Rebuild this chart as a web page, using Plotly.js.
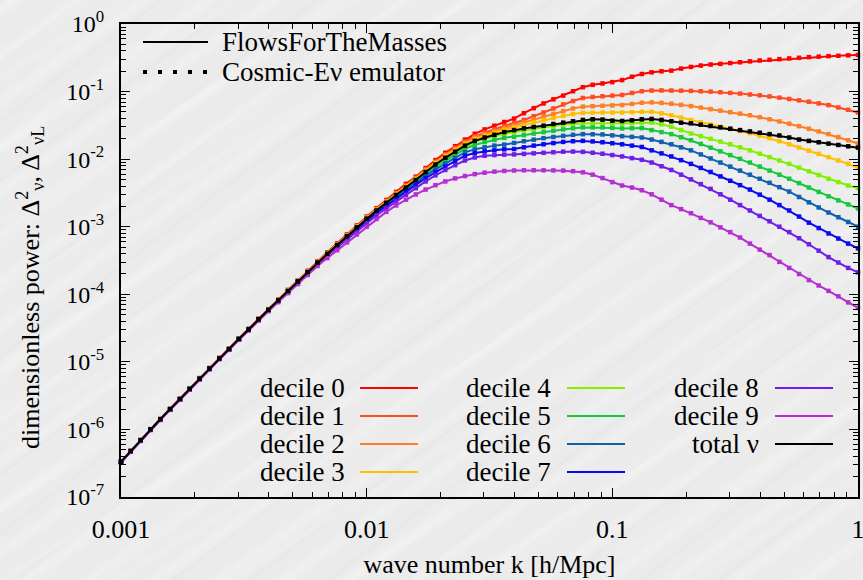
<!DOCTYPE html>
<html>
<head>
<meta charset="utf-8">
<script src="https://cdn.plot.ly/plotly-3.0.1.min.js"></script>
<style>
  html, body { margin: 0; padding: 0; }
  body {
    width: 863px; height: 580px; overflow: hidden;
    background-color: #ebebeb;
    background-image:
      repeating-linear-gradient(145deg, rgba(255,255,255,0) 0px, rgba(255,255,255,0.24) 9px, rgba(255,255,255,0) 18px, rgba(255,255,255,0) 37px),
      repeating-linear-gradient(148deg, rgba(255,255,255,0) 0px, rgba(255,255,255,0.15) 5px, rgba(255,255,255,0) 10px, rgba(255,255,255,0) 61px),
      repeating-linear-gradient(143deg, rgba(0,0,0,0) 0px, rgba(0,0,0,0.015) 3px, rgba(0,0,0,0) 6px, rgba(0,0,0,0) 47px);
  }
  #chart { width: 863px; height: 580px; }
</style>
</head>
<body>
<div id="chart"></div>
<script>
// wave number k [h/Mpc], sampled every 0.04 dex
const k = [
  0.001, 0.001096, 0.001202, 0.001318, 0.001445, 0.001585, 0.001738, 0.001905, 0.002089, 0.002291,
  0.002512, 0.002754, 0.00302, 0.003311, 0.003631, 0.003981, 0.004365, 0.004786, 0.005248, 0.005754,
  0.00631, 0.006918, 0.007586, 0.008318, 0.00912, 0.01, 0.01096, 0.01202, 0.01318, 0.01445,
  0.01585, 0.01738, 0.01905, 0.02089, 0.02291, 0.02512, 0.02754, 0.0302, 0.03311, 0.03631,
  0.03981, 0.04365, 0.04786, 0.05248, 0.05754, 0.0631, 0.06918, 0.07586, 0.08318, 0.0912,
  0.1, 0.1096, 0.1202, 0.1318, 0.1445, 0.1585, 0.1738, 0.1905, 0.2089, 0.2291,
  0.2512, 0.2754, 0.302, 0.3311, 0.3631, 0.3981, 0.4365, 0.4786, 0.5248, 0.5754,
  0.631, 0.6918, 0.7586, 0.8318, 0.912, 1
];

// log10 of the dimensionless power for each velocity decile and the total
const logDecile0 = [
  -6.475, -6.315, -6.155, -5.995, -5.845, -5.695, -5.545, -5.39, -5.24, -5.09,
  -4.94, -4.80, -4.65, -4.51, -4.36, -4.22, -4.078, -3.935, -3.795, -3.652,
  -3.51, -3.378, -3.246, -3.114, -2.982, -2.85, -2.726, -2.605, -2.485, -2.366,
  -2.26, -2.132, -2.014, -1.906, -1.808, -1.71, -1.625, -1.56, -1.505, -1.45,
  -1.40, -1.32, -1.245, -1.175, -1.115, -1.06, -0.995, -0.935, -0.90, -0.88,
  -0.86, -0.83, -0.78, -0.74, -0.715, -0.70, -0.69, -0.66, -0.635, -0.615,
  -0.60, -0.59, -0.578, -0.566, -0.553, -0.54, -0.53, -0.52, -0.51, -0.50,
  -0.49, -0.483, -0.476, -0.47, -0.464, -0.458
];
const logDecile1 = [
  -6.477, -6.317, -6.157, -5.997, -5.847, -5.697, -5.547, -5.397, -5.247, -5.097,
  -4.947, -4.806, -4.655, -4.515, -4.364, -4.224, -4.083, -3.942, -3.801, -3.66,
  -3.52, -3.388, -3.256, -3.124, -2.992, -2.86, -2.737, -2.619, -2.501, -2.388,
  -2.275, -2.15, -2.035, -1.93, -1.835, -1.74, -1.663, -1.605, -1.558, -1.51,
  -1.47, -1.42, -1.365, -1.31, -1.25, -1.19, -1.14, -1.095, -1.08, -1.07,
  -1.06, -1.05, -1.02, -0.995, -0.985, -0.983, -0.985, -0.987, -0.99, -0.995,
  -1.00, -1.01, -1.02, -1.03, -1.043, -1.055, -1.072, -1.09, -1.11, -1.13,
  -1.15, -1.175, -1.20, -1.235, -1.27, -1.31
];
const logDecile2 = [
  -6.478, -6.318, -6.158, -5.998, -5.848, -5.698, -5.548, -5.398, -5.248, -5.098,
  -4.948, -4.807, -4.657, -4.517, -4.366, -4.226, -4.085, -3.943, -3.803, -3.661,
  -3.52, -3.389, -3.258, -3.127, -2.996, -2.865, -2.743, -2.626, -2.509, -2.397,
  -2.285, -2.16, -2.045, -1.94, -1.848, -1.755, -1.681, -1.627, -1.584, -1.54,
  -1.50, -1.455, -1.41, -1.37, -1.33, -1.29, -1.25, -1.223, -1.217, -1.21,
  -1.205, -1.20, -1.183, -1.165, -1.16, -1.168, -1.18, -1.197, -1.215, -1.237,
  -1.26, -1.283, -1.305, -1.327, -1.35, -1.38, -1.41, -1.442, -1.475, -1.512,
  -1.55, -1.59, -1.63, -1.675, -1.72, -1.77
];
const logDecile3 = [
  -6.479, -6.319, -6.159, -5.999, -5.849, -5.699, -5.549, -5.399, -5.249, -5.099,
  -4.949, -4.808, -4.658, -4.518, -4.368, -4.227, -4.086, -3.945, -3.804, -3.664,
  -3.523, -3.392, -3.262, -3.131, -3.001, -2.87, -2.749, -2.633, -2.517, -2.406,
  -2.295, -2.173, -2.06, -1.958, -1.867, -1.775, -1.703, -1.65, -1.608, -1.565,
  -1.53, -1.494, -1.458, -1.424, -1.392, -1.36, -1.332, -1.314, -1.312, -1.31,
  -1.31, -1.31, -1.305, -1.30, -1.30, -1.322, -1.35, -1.385, -1.42, -1.455,
  -1.49, -1.522, -1.555, -1.585, -1.615, -1.652, -1.69, -1.735, -1.78, -1.828,
  -1.875, -1.922, -1.97, -2.02, -2.07, -2.13
];
const logDecile4 = [
  -6.48, -6.32, -6.16, -6.00, -5.85, -5.70, -5.55, -5.40, -5.25, -5.10,
  -4.95, -4.81, -4.66, -4.52, -4.37, -4.231, -4.091, -3.951, -3.811, -3.671,
  -3.532, -3.402, -3.272, -3.142, -3.012, -2.882, -2.763, -2.649, -2.534, -2.425,
  -2.315, -2.198, -2.09, -1.993, -1.903, -1.815, -1.748, -1.70, -1.663, -1.625,
  -1.60, -1.575, -1.552, -1.53, -1.51, -1.49, -1.478, -1.47, -1.47, -1.47,
  -1.473, -1.475, -1.468, -1.46, -1.46, -1.485, -1.52, -1.57, -1.62, -1.66,
  -1.70, -1.74, -1.78, -1.825, -1.87, -1.92, -1.97, -2.02, -2.07, -2.125,
  -2.18, -2.235, -2.29, -2.34, -2.39, -2.43
];
const logDecile5 = [
  -6.481, -6.321, -6.161, -6.001, -5.851, -5.701, -5.551, -5.401, -5.251, -5.101,
  -4.951, -4.811, -4.661, -4.521, -4.372, -4.232, -4.093, -3.953, -3.814, -3.674,
  -3.535, -3.406, -3.277, -3.148, -3.019, -2.89, -2.772, -2.659, -2.546, -2.438,
  -2.33, -2.217, -2.115, -2.023, -1.936, -1.85, -1.789, -1.748, -1.716, -1.685,
  -1.67, -1.645, -1.622, -1.60, -1.58, -1.56, -1.543, -1.53, -1.53, -1.53,
  -1.538, -1.545, -1.543, -1.54, -1.57, -1.60, -1.63, -1.675, -1.72, -1.775,
  -1.83, -1.885, -1.94, -1.995, -2.05, -2.11, -2.17, -2.23, -2.29, -2.355,
  -2.42, -2.485, -2.55, -2.61, -2.67, -2.73
];
const logDecile6 = [
  -6.482, -6.322, -6.162, -6.002, -5.852, -5.702, -5.552, -5.402, -5.252, -5.102,
  -4.952, -4.812, -4.663, -4.523, -4.374, -4.234, -4.095, -3.956, -3.817, -3.677,
  -3.538, -3.41, -3.283, -3.156, -3.028, -2.90, -2.784, -2.673, -2.562, -2.456,
  -2.35, -2.245, -2.15, -2.065, -1.983, -1.90, -1.855, -1.825, -1.80, -1.785,
  -1.76, -1.735, -1.712, -1.69, -1.672, -1.655, -1.64, -1.63, -1.632, -1.635,
  -1.648, -1.66, -1.67, -1.68, -1.71, -1.745, -1.78, -1.825, -1.87, -1.93,
  -1.99, -2.05, -2.11, -2.17, -2.23, -2.29, -2.35, -2.415, -2.48, -2.56,
  -2.64, -2.715, -2.79, -2.86, -2.93, -3.00
];
const logDecile7 = [
  -6.483, -6.323, -6.163, -6.003, -5.853, -5.703, -5.553, -5.403, -5.253, -5.103,
  -4.953, -4.814, -4.665, -4.525, -4.376, -4.236, -4.097, -3.958, -3.819, -3.679,
  -3.54, -3.414, -3.288, -3.162, -3.036, -2.91, -2.798, -2.691, -2.584, -2.482,
  -2.38, -2.28, -2.19, -2.11, -2.03, -1.95, -1.91, -1.885, -1.87, -1.855,
  -1.85, -1.825, -1.80, -1.78, -1.762, -1.745, -1.735, -1.73, -1.738, -1.75,
  -1.765, -1.78, -1.80, -1.82, -1.87, -1.915, -1.96, -2.015, -2.07, -2.13,
  -2.19, -2.255, -2.32, -2.385, -2.45, -2.525, -2.60, -2.68, -2.76, -2.85,
  -2.94, -3.02, -3.10, -3.175, -3.25, -3.32
];
const logDecile8 = [
  -6.485, -6.325, -6.165, -6.005, -5.855, -5.705, -5.555, -5.405, -5.255, -5.105,
  -4.955, -4.816, -4.668, -4.529, -4.381, -4.24, -4.102, -3.965, -3.828, -3.69,
  -3.55, -3.428, -3.306, -3.184, -3.062, -2.94, -2.832, -2.729, -2.626, -2.528,
  -2.43, -2.33, -2.24, -2.16, -2.09, -2.02, -1.975, -1.95, -1.94, -1.933,
  -1.93, -1.922, -1.914, -1.906, -1.898, -1.89, -1.888, -1.892, -1.905, -1.92,
  -1.94, -1.96, -1.985, -2.01, -2.05, -2.105, -2.16, -2.23, -2.30, -2.37,
  -2.44, -2.52, -2.60, -2.68, -2.76, -2.84, -2.92, -3.00, -3.08, -3.17,
  -3.26, -3.355, -3.45, -3.53, -3.61, -3.675
];
const logDecile9 = [
  -6.49, -6.33, -6.17, -6.01, -5.86, -5.71, -5.56, -5.41, -5.26, -5.11,
  -4.96, -4.822, -4.674, -4.535, -4.387, -4.25, -4.116, -3.982, -3.848, -3.714,
  -3.58, -3.464, -3.348, -3.232, -3.116, -3.00, -2.885, -2.78, -2.685, -2.60,
  -2.522, -2.45, -2.385, -2.33, -2.285, -2.25, -2.222, -2.20, -2.185, -2.175,
  -2.168, -2.165, -2.164, -2.165, -2.167, -2.17, -2.178, -2.195, -2.23, -2.28,
  -2.34, -2.39, -2.42, -2.46, -2.52, -2.60, -2.68, -2.74, -2.80, -2.87,
  -2.935, -3.01, -3.08, -3.16, -3.25, -3.34, -3.42, -3.52, -3.61, -3.70,
  -3.79, -3.87, -3.95, -4.03, -4.12, -4.20
];
const logTotal = [
  -6.48, -6.32, -6.16, -6.00, -5.85, -5.70, -5.55, -5.40, -5.25, -5.10,
  -4.95, -4.81, -4.66, -4.52, -4.37, -4.23, -4.09, -3.95, -3.81, -3.67,
  -3.53, -3.40, -3.27, -3.14, -3.01, -2.88, -2.76, -2.645, -2.53, -2.42,
  -2.31, -2.19, -2.08, -1.98, -1.89, -1.80, -1.73, -1.68, -1.64, -1.60,
  -1.57, -1.545, -1.525, -1.505, -1.48, -1.46, -1.44, -1.42, -1.41, -1.415,
  -1.43, -1.435, -1.425, -1.41, -1.405, -1.42, -1.44, -1.46, -1.47, -1.49,
  -1.51, -1.53, -1.55, -1.57, -1.59, -1.61, -1.63, -1.65, -1.68, -1.71,
  -1.73, -1.75, -1.77, -1.79, -1.81, -1.83
];

const seriesNames = ['decile 0', 'decile 1', 'decile 2', 'decile 3', 'decile 4',
                     'decile 5', 'decile 6', 'decile 7', 'decile 8', 'decile 9', 'total ν'];
const seriesLogs = [logDecile0, logDecile1, logDecile2, logDecile3, logDecile4,
                    logDecile5, logDecile6, logDecile7, logDecile8, logDecile9, logTotal];
const seriesColors = ['#ff0000', '#ff4a22', '#ff7d24', '#ffbf00', '#80f000',
                      '#14c83c', '#1060ae', '#0a0af0', '#6e1ee6', '#b42ed2', '#000000'];

const xTickVals = [0.001, 0.01, 0.1, 1];
const xTickText = ['0.001', '0.01', '0.1', '1'];
const yTickVals = [1e-7, 1e-6, 1e-5, 1e-4, 1e-3, 1e-2, 1e-1, 1];
const yTickText = ['10<sup>-7</sup>', '10<sup>-6</sup>', '10<sup>-5</sup>', '10<sup>-4</sup>',
                   '10<sup>-3</sup>', '10<sup>-2</sup>', '10<sup>-1</sup>', '10<sup>0</sup>'];

const FONT = 'Liberation Serif, Times New Roman, Times, serif';
const KEY_SIZE = 27;

// plot box in pixels, and helpers to place keys in paper coordinates
const box = { l: 121, r: 858, t: 24, b: 497 };
const fx = p => (p - box.l) / (box.r - box.l);
const fy = p => (box.b - p) / (box.b - box.t);

const traces = [];
seriesLogs.forEach((logs, i) => {
  const y = logs.map(v => Math.pow(10, v));
  // simulation result: solid line
  traces.push({
    x: k, y: y, type: 'scatter', mode: 'lines', name: seriesNames[i],
    line: { color: seriesColors[i], width: 2 }, showlegend: false, hoverinfo: 'skip'
  });
  // emulator prediction: small squares
  traces.push({
    x: k, y: y, type: 'scatter', mode: 'markers', name: seriesNames[i] + ' (emulator)',
    marker: { color: seriesColors[i], symbol: 'square', size: 4.5, line: { width: 0 } },
    showlegend: false, hoverinfo: 'skip', cliponaxis: false
  });
});

const annotations = [];
const shapes = [];

// method key, top left
const methodKeyRows = [42, 72];
shapes.push({ type: 'line', xref: 'paper', yref: 'paper', x0: fx(143), x1: fx(208),
              y0: fy(methodKeyRows[0]), y1: fy(methodKeyRows[0]), line: { color: '#000', width: 2 } });
for (let p = 145; p <= 206; p += 15) {
  shapes.push({ type: 'rect', xref: 'paper', yref: 'paper', x0: fx(p - 2), x1: fx(p + 2),
                y0: fy(methodKeyRows[1] - 2), y1: fy(methodKeyRows[1] + 2),
                fillcolor: '#000', line: { width: 0 } });
}
['FlowsForTheMasses', 'Cosmic-Eν emulator'].forEach((t, r) => {
  annotations.push({ text: t, xref: 'paper', yref: 'paper', x: fx(220), y: fy(methodKeyRows[r]),
                     xanchor: 'left', yanchor: 'middle', showarrow: false,
                     font: { family: FONT, size: KEY_SIZE, color: '#000' } });
});

// series key, bottom right, three columns
const keyRows = [388, 416, 444, 472];
const keyCols = [
  { textRight: 346, x0: 360, x1: 418, items: [0, 1, 2, 3] },
  { textRight: 552, x0: 567, x1: 625, items: [4, 5, 6, 7] },
  { textRight: 760, x0: 775, x1: 833, items: [8, 9, 10] }
];
keyCols.forEach(col => {
  col.items.forEach((si, r) => {
    annotations.push({ text: seriesNames[si], xref: 'paper', yref: 'paper',
                       x: fx(col.textRight), y: fy(keyRows[r]),
                       xanchor: 'right', yanchor: 'middle', showarrow: false, borderpad: 0,
                       font: { family: FONT, size: KEY_SIZE, color: '#000' } });
    shapes.push({ type: 'line', xref: 'paper', yref: 'paper', x0: fx(col.x0), x1: fx(col.x1),
                  y0: fy(keyRows[r]), y1: fy(keyRows[r]),
                  line: { color: seriesColors[si], width: 2 } });
  });
});

// vertical axis title
annotations.push({
  text: 'dimensionless power: Δ<sup>2</sup><sub>ν</sub>, Δ<sup>2</sup><sub>νL</sub>',
  xref: 'paper', yref: 'paper', x: fx(30), y: fy(288), textangle: -90,
  xanchor: 'center', yanchor: 'middle', showarrow: false,
  font: { family: FONT, size: 26, color: '#000' }
});

const axisCommon = {
  type: 'log', showgrid: false, zeroline: false,
  showline: true, linecolor: '#000', linewidth: 2, mirror: 'allticks',
  ticks: 'inside', ticklen: 9, tickwidth: 1.2, tickcolor: '#000',
  minor: { ticks: 'inside', ticklen: 5, tickwidth: 1, tickcolor: '#000', dtick: 'D1', showgrid: false },
  tickmode: 'array', ticklabeloverflow: 'allow'
};

const layout = {
  width: 863, height: 580,
  margin: { l: box.l, r: 863 - box.r, t: box.t, b: 580 - box.b, pad: 0 },
  paper_bgcolor: 'rgba(0,0,0,0)', plot_bgcolor: 'rgba(0,0,0,0)',
  font: { family: FONT, color: '#000' },
  showlegend: false,
  xaxis: Object.assign({}, axisCommon, {
    range: [-3, 0], tickvals: xTickVals, ticktext: xTickText,
    tickfont: { family: FONT, size: 26, color: '#000' }, ticklabelstandoff: 8,
    title: { text: 'wave number k [h/Mpc]', font: { family: FONT, size: 26, color: '#000' }, standoff: 12 }
  }),
  yaxis: Object.assign({}, axisCommon, {
    range: [-7, 0], tickvals: yTickVals, ticktext: yTickText,
    tickfont: { family: FONT, size: 24, color: '#000' }, ticklabelstandoff: 10
  }),
  annotations: annotations,
  shapes: shapes
};

Plotly.newPlot('chart', traces, layout, { displayModeBar: false, staticPlot: true });
</script>
</body>
</html>
